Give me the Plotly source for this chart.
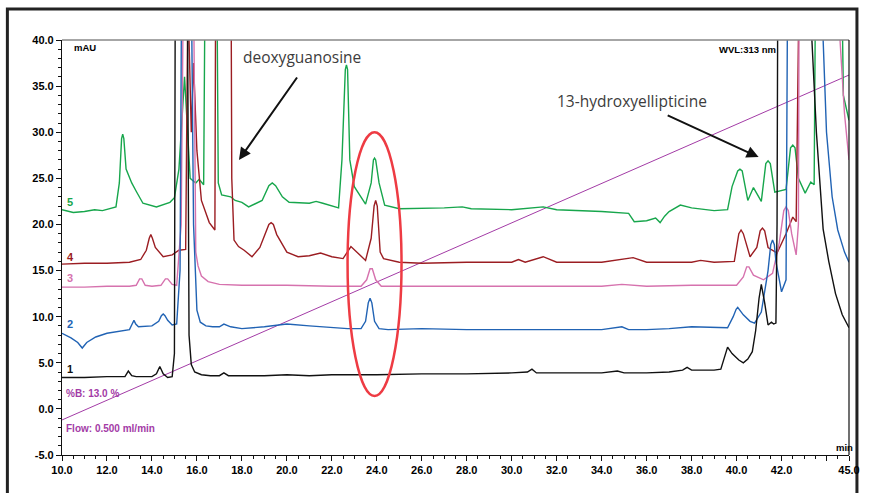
import plotly.graph_objects as go

# ---------------- data ----------------
t1 = [10.0, 11.0, 12.0, 12.8, 12.95, 13.1, 13.3, 14.0, 14.2, 14.35, 14.5, 14.7, 14.9, 15.0, 15.05, 15.55,
      15.65, 15.75, 15.9, 16.2, 16.6, 17.0, 17.2, 17.4, 18.0, 19.0, 20.0, 21.0, 22.0, 24.0, 26.0, 28.0,
      30.0, 30.7, 30.9, 31.1, 32.0, 34.0, 34.7, 35.0, 36.0, 37.0, 37.6, 37.8, 38.0, 39.0, 39.3, 39.45,
      39.6, 39.8, 40.1, 40.3, 40.5, 40.7, 40.85, 41.0, 41.1, 41.25, 41.4, 41.55, 41.65, 41.75, 41.8,
      41.85, 43.3, 43.35, 43.55, 43.85, 44.1, 44.4, 44.7, 45.0]
v1 = [3.4, 3.4, 3.5, 3.5, 4.1, 3.6, 3.5, 3.5, 3.8, 4.6, 3.8, 3.4, 3.5, 6.0, 60.0, 60.0,
      8.0, 4.8, 4.0, 3.7, 3.6, 3.6, 3.9, 3.6, 3.6, 3.6, 3.7, 3.6, 3.7, 3.7, 3.8, 3.8,
      3.9, 4.0, 4.3, 3.9, 3.9, 3.9, 4.1, 3.9, 3.9, 4.0, 4.2, 4.5, 4.2, 4.2, 4.3, 5.5,
      6.7, 6.0, 5.3, 5.0, 5.4, 6.2, 8.5, 12.0, 13.5, 11.5, 9.1, 9.4, 9.2, 9.3, 20.0,
      60.0, 60.0, 40.0, 30.0, 19.5, 16.0, 12.5, 10.2, 8.8]

t2 = [10.0, 10.4, 10.7, 10.9, 11.1, 11.5, 12.0, 12.5, 13.0, 13.12, 13.2, 13.28, 13.4, 14.0, 14.3, 14.42,
      14.5, 14.58, 14.7, 14.9, 15.1, 15.25, 15.35, 15.7, 15.85, 16.0, 16.15, 16.4, 16.7, 17.0, 17.2, 17.5,
      18.0, 19.0, 20.0, 21.0, 22.0, 22.7, 23.3, 23.5, 23.62, 23.7, 23.78, 23.9, 24.1, 24.5, 26.0, 28.0,
      30.0, 32.0, 34.0, 34.9, 35.2, 36.0, 37.0, 38.0, 39.0, 39.6, 39.85, 39.98, 40.05, 40.12, 40.3, 40.6,
      40.8, 41.1, 41.4, 41.52, 41.6, 41.68, 41.75, 42.0, 42.2, 42.3, 43.8, 43.85, 44.0, 44.25, 44.5, 44.8,
      45.0]
v2 = [8.2, 7.7, 7.2, 6.6, 7.2, 7.8, 8.2, 8.4, 8.6, 9.2, 9.6, 9.2, 8.9, 9.0, 9.5, 10.1,
      10.3, 10.1, 9.6, 9.1, 9.2, 15.0, 60.0, 60.0, 20.0, 10.7, 9.4, 9.0, 8.9, 8.9, 9.2, 8.9,
      8.7, 8.9, 9.2, 9.0, 8.8, 8.7, 8.7, 9.5, 11.5, 12.0, 11.5, 9.5, 8.7, 8.6, 8.7, 8.6,
      8.6, 8.6, 8.6, 8.9, 8.6, 8.6, 8.7, 8.9, 8.8, 8.8, 10.0, 10.8, 11.0, 10.8, 10.2, 9.5,
      9.3, 10.5, 15.0, 17.8, 18.3, 17.8, 16.0, 12.7, 14.0, 60.0, 60.0, 40.0, 30.0, 23.0, 19.4, 17.0,
      15.9]

t3 = [10.0, 11.0, 12.0, 13.0, 13.3, 13.45, 13.55, 13.7, 14.0, 14.4, 14.6, 14.7, 14.9, 15.1, 15.3, 15.45,
      15.8, 15.95, 16.05, 16.2, 16.5, 17.0, 18.0, 20.0, 22.0, 23.3, 23.55, 23.7, 23.8, 23.95, 24.2, 26.0,
      28.0, 30.0, 32.0, 34.0, 34.9, 36.0, 38.0, 40.0, 40.3, 40.45, 40.55, 40.75, 41.2, 41.6, 41.9, 42.1,
      42.2, 42.3, 42.45, 42.65, 42.75, 42.8, 44.5, 44.6, 44.8, 45.0]
v3 = [13.2, 13.2, 13.3, 13.3, 13.4, 14.1, 14.1, 13.4, 13.3, 13.4, 14.1, 14.1, 13.5, 13.4, 20.0, 60.0,
      60.0, 17.0, 15.5, 14.4, 13.8, 13.5, 13.4, 13.4, 13.3, 13.3, 14.0, 15.2, 15.2, 14.0, 13.3, 13.3,
      13.3, 13.3, 13.3, 13.3, 13.5, 13.3, 13.4, 13.4, 14.3, 15.4, 15.4, 14.5, 14.0, 14.7, 18.0, 21.5,
      21.9, 21.5, 19.0, 16.7, 20.0, 60.0, 60.0, 40.0, 32.0, 27.0]

t4 = [10.0, 11.0, 12.0, 13.0, 13.5, 13.75, 13.88, 13.95, 14.02, 14.15, 14.5, 14.9, 15.2, 15.5, 15.6, 15.75,
      15.85, 16.0, 16.2, 16.55, 16.8, 16.85, 17.5, 17.55, 17.65, 17.85, 18.1, 18.45, 18.8, 19.05, 19.2, 19.3,
      19.4, 19.55, 20.0, 20.5, 21.0, 21.5, 22.0, 22.5, 22.85, 23.2, 23.5, 23.75, 23.88, 23.95, 24.02, 24.15,
      24.3, 25.0, 26.0, 28.0, 30.0, 30.3, 30.6, 31.4, 32.0, 34.0, 35.4, 36.0, 38.0, 38.4, 39.0, 39.9,
      40.1, 40.2, 40.3, 40.6, 40.9, 41.05, 41.15, 41.25, 41.4, 41.8, 42.2, 42.5, 42.65, 42.75, 42.8, 45.0]
v4 = [15.7, 15.8, 15.8, 15.9, 16.2, 17.2, 18.5, 18.9, 18.5, 17.5, 16.5, 16.7, 17.2, 17.3, 45.0, 30.0,
      37.5, 28.0, 22.6, 20.2, 19.4, 60.0, 60.0, 25.0, 18.3, 17.6, 17.2, 16.5, 17.5, 19.2, 20.0, 20.2,
      20.0, 18.9, 17.0, 16.5, 16.6, 16.9, 16.5, 16.3, 17.6, 16.8, 16.1, 18.5, 22.0, 22.6, 22.0, 17.0,
      16.3, 15.9, 15.8, 15.9, 15.9, 16.2, 15.9, 16.5, 15.9, 15.9, 16.4, 15.9, 15.9, 16.1, 15.9, 16.0,
      19.0, 19.4, 19.0, 16.5, 17.5, 19.3, 19.6, 19.3, 17.5, 16.9, 19.0, 20.8, 20.3, 40.0, 60.0, 60.0]

t5 = [10.0, 10.5, 11.0, 11.45, 11.8, 12.4, 12.55, 12.65, 12.7, 12.75, 12.85, 13.1, 13.3, 13.6, 14.2, 14.8,
      15.0, 15.2, 15.45, 15.7, 15.8, 15.95, 16.1, 16.3, 16.4, 16.85, 16.95, 17.1, 17.5, 17.7, 18.0, 18.3,
      18.9, 19.2, 19.35, 19.5, 19.8, 20.1, 21.0, 21.3, 21.6, 22.3, 22.45, 22.6, 22.65, 22.7, 22.8, 23.0,
      23.5, 23.75, 23.85, 23.9, 23.95, 24.1, 24.35, 25.0, 27.0, 27.8, 28.2, 30.0, 31.4, 32.0, 34.0, 35.2,
      35.45, 36.0, 36.4, 36.6, 36.8, 37.0, 37.5, 38.0, 39.0, 39.6, 39.8, 40.05, 40.15, 40.25, 40.5, 40.75,
      41.1, 41.3, 41.4, 41.5, 41.7, 42.2, 42.4, 42.5, 42.6, 42.75, 43.05, 43.3, 43.45, 43.55, 44.6, 44.75,
      45.0]
v5 = [21.6, 21.3, 21.4, 21.6, 21.5, 21.9, 24.5, 29.3, 29.8, 29.3, 26.0, 24.5, 23.6, 22.3, 21.9, 22.4,
      22.9, 26.0, 36.0, 25.0, 24.8, 24.5, 24.9, 24.3, 60.0, 60.0, 24.5, 23.2, 23.0, 22.6, 22.4, 21.9,
      22.6, 24.2, 24.5, 24.2, 23.0, 22.4, 22.3, 22.5, 22.3, 21.8, 27.0, 36.8, 37.3, 36.8, 27.0, 24.1,
      22.2, 24.5, 27.0, 27.2, 27.0, 24.5, 22.1, 21.7, 21.8, 21.9, 21.7, 21.6, 21.9, 21.6, 21.4, 21.2,
      20.3, 20.4, 20.7, 20.2, 20.9, 21.4, 22.1, 21.8, 21.5, 21.6, 24.1, 25.8, 26.0, 25.8, 22.6, 24.0,
      22.5, 26.6, 26.9, 26.6, 23.5, 23.8, 28.3, 28.6, 28.3, 25.0, 23.4, 24.6, 24.3, 60.0, 60.0, 34.0,
      31.3]

grad_t = [10.0, 45.0]
grad_v = [-1.2, 36.2]

series_names = ["1", "2", "3", "4", "5"]
x_ticks = [10, 12, 14, 16, 18, 20, 22, 24, 26, 28, 30, 32, 34, 36, 38, 40, 42, 44, 45]
x_tick_text = ["10.0", "12.0", "14.0", "16.0", "18.0", "20.0", "22.0", "24.0", "26.0", "28.0",
               "30.0", "32.0", "34.0", "36.0", "38.0", "40.0", "42.0", "", "45.0"]
y_ticks = [-5, 0, 5, 10, 15, 20, 25, 30, 35, 40]
y_tick_text = ["-5.0", "0.0", "5.0", "10.0", "15.0", "20.0", "25.0", "30.0", "35.0", "40.0"]

# ---------------- styling ----------------
colors = ["#111111", "#2163b4", "#d672ae", "#9b1d22", "#17a64c"]
purple = "#a33ba6"
label_y = [0.207, 0.316, 0.4265, 0.477, 0.610]

fig = go.Figure()
fig.add_trace(go.Scatter(x=grad_t, y=grad_v, mode="lines", line=dict(color=purple, width=1),
                         hoverinfo="skip"))
for t, v, c in [(t5, v5, colors[4]), (t4, v4, colors[3]), (t3, v3, colors[2]),
                (t2, v2, colors[1]), (t1, v1, colors[0])]:
    fig.add_trace(go.Scatter(x=t, y=v, mode="lines", line=dict(color=c, width=1.4)))

bold = dict(family="Liberation Sans, Arial, sans-serif", size=11, color="#000000", weight="bold")

fig.update_layout(
    width=872, height=493, showlegend=False,
    paper_bgcolor="white", plot_bgcolor="white",
    margin=dict(l=62, r=17, t=40, b=38),
    xaxis=dict(range=[10, 45], tickmode="array", tickvals=x_ticks, ticktext=x_tick_text,
               showgrid=False, zeroline=False, showline=True, linecolor="#111111", linewidth=1.2,
               ticks="outside", ticklen=5, tickcolor="#111111", tickfont=bold,
               minor=dict(tickmode="linear", tick0=10, dtick=0.5, ticks="outside", ticklen=3,
                          tickcolor="#111111", showgrid=False)),
    yaxis=dict(range=[-5, 40], tickmode="array", tickvals=y_ticks, ticktext=y_tick_text,
               showgrid=False, zeroline=False, showline=True, linecolor="#111111", linewidth=1.2,
               ticks="outside", ticklen=5, tickcolor="#111111", tickfont=bold,
               minor=dict(tickmode="linear", tick0=-5, dtick=1, ticks="outside", ticklen=3,
                          tickcolor="#111111", showgrid=False)),
)

# frame lines
fig.add_shape(type="line", xref="paper", yref="paper", x0=0, x1=1, y0=1, y1=1,
              line=dict(color="#888888", width=1.5))
fig.add_shape(type="line", xref="paper", yref="paper", x0=1, x1=1, y0=0, y1=1,
              line=dict(color="#111111", width=1.2))
fig.add_shape(type="rect", xref="paper", yref="paper", x0=-0.0694, x1=1.0101, y0=-0.2, y1=1.0747,
              line=dict(color="#222222", width=3), layer="below")

# red ellipse
fig.add_shape(type="circle", xref="x", yref="y", x0=22.7, x1=25.1, y0=1.4, y1=30.0,
              line=dict(color="#ee3b43", width=2.5))

small_bold = dict(family="Liberation Sans, Arial, sans-serif", size=9.5, color="#000000", weight="bold")
fig.add_annotation(text="mAU", xref="paper", yref="paper", x=0.0126, y=0.983, xanchor="left",
                   yanchor="middle", showarrow=False, font=small_bold)
fig.add_annotation(text="WVL:313 nm", xref="paper", yref="paper", x=0.910, y=0.976, xanchor="right",
                   yanchor="middle", showarrow=False, font=small_bold)
fig.add_annotation(text="min", xref="paper", yref="paper", x=1.008, y=0.019, xanchor="right",
                   yanchor="middle", showarrow=False, font=small_bold)
pfont = dict(family="Liberation Sans, Arial, sans-serif", size=10, color=purple, weight="bold")
fig.add_annotation(text="%B: 13.0 %", xref="paper", yref="paper", x=0.003, y=0.149, xanchor="left",
                   yanchor="middle", showarrow=False, font=pfont)
fig.add_annotation(text="Flow: 0.500 ml/min", xref="paper", yref="paper", x=0.003, y=0.065,
                   xanchor="left", yanchor="middle", showarrow=False, font=pfont)

for name, c, yy in zip(series_names, colors, label_y):
    fig.add_annotation(text=name, xref="paper", yref="paper", x=0.004, y=yy, xanchor="left",
                       yanchor="middle", showarrow=False,
                       font=dict(family="Liberation Sans, Arial, sans-serif", size=11, color=c,
                                 weight="bold"))

afont = dict(family="Open Sans, sans-serif", size=15.5, color="#3c3c3c")
fig.add_annotation(text="deoxyguanosine", xref="paper", yref="paper", x=0.3055, y=0.959,
                   xanchor="center", yanchor="middle", showarrow=False, font=afont)
fig.add_annotation(text="13-hydroxyellipticine", xref="paper", yref="paper", x=0.7238, y=0.853,
                   xanchor="center", yanchor="middle", showarrow=False, font=afont)

fig.add_annotation(x=17.87, y=27.0, ax=20.5, ay=36.1, xref="x", yref="y", axref="x", ayref="y",
                   text="", showarrow=True, arrowhead=2, arrowsize=1.2, arrowwidth=2,
                   arrowcolor="#111111")
fig.add_annotation(x=40.98, y=27.3, ax=36.87, ay=31.9, xref="x", yref="y", axref="x", ayref="y",
                   text="", showarrow=True, arrowhead=2, arrowsize=1.2, arrowwidth=2,
                   arrowcolor="#111111")

fig.write_html("out.html", config={"displayModeBar": False},
               post_script="document.body.style.margin='0px';")
